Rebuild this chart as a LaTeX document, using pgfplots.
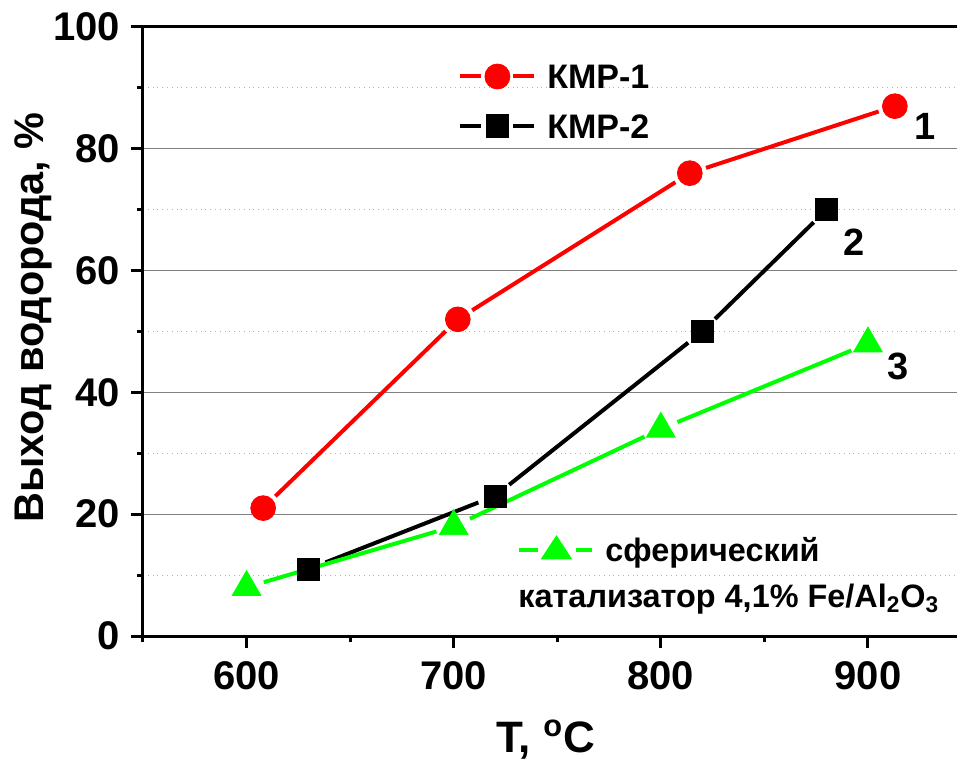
\documentclass[border=0pt]{standalone}
\usepackage{fontspec}
\setmainfont{Liberation Sans}
\usepackage{pgfplots}
\pgfplotsset{compat=1.18}
\definecolor{grn}{RGB}{0,255,0}
\definecolor{rd}{RGB}{255,0,0}
\pgfplotsset{
  redseg/.style={rd, line width=2pt, shorten <=8.5pt, shorten >=8.5pt, forget plot},
  blkseg/.style={black, line width=2pt, shorten <=9pt, shorten >=9pt, forget plot},
  grnseg/.style={grn, line width=2pt, shorten <=9pt, shorten >=9pt, forget plot},
}
\begin{document}
\begin{tikzpicture}
\begin{axis}[
  at={(0,0)}, anchor=south west,
  scale only axis, width=407pt, height=304.5pt,
  xmin=550, xmax=943, ymin=0, ymax=100,
  axis x line*=bottom, axis y line*=left,
  axis line style={line width=1.5pt, -},
  xtick={600,700,800,900}, minor xtick={550,650,750,850},
  ytick={0,20,...,100}, minor ytick={10,30,50,70,90},
  tick align=outside,
  major tick length=6pt, minor tick length=3pt,
  every tick/.style={line width=1.5pt, black},
  ymajorgrids, yminorgrids,
  major grid style={draw=black!50, line width=0.6pt, solid},
  minor grid style={draw=black!30, dotted, line width=0.6pt},
  tick label style={font=\fontsize{20}{23}\selectfont\bfseries},
  xticklabel style={yshift=-3pt},
  yticklabel style={xshift=-2pt},
  /pgf/number format/assume math mode=true,
  xlabel={T, \textsuperscript{o}C},
  ylabel={Выход водорода, \%},
  xlabel style={font=\fontsize{22}{26}\selectfont\bfseries, at={(rel axis cs:0.495,0)}, anchor=base, yshift=-58pt},
  ylabel style={font=\fontsize{20.7}{25}\selectfont\bfseries, at={([xshift=-55pt]rel axis cs:0,0.523)}, anchor=center},
  clip=false,
  legend style={draw=none, fill=none, at={(rel axis cs:0.387,0.878)}, anchor=west,
    inner sep=0pt, row sep=9pt, column sep=5.5pt,
    nodes={inner sep=0pt, text height=14pt, text depth=1.8pt},
    font=\fontsize{17}{20}\selectfont\bfseries},
  legend cell align=left,
]
\draw[line width=1.5pt] (rel axis cs:0,1) -- (rel axis cs:1,1);
% legend images
\addlegendimage{legend image code/.code={
  \draw[rd, line width=2pt] (0pt,0pt)--(10.5pt,0pt) (26.5pt,0pt)--(37pt,0pt);
  \fill[rd] (18.5pt,0pt) circle (6.25pt);}}
\addlegendentry{КМР-1}
\addlegendimage{legend image code/.code={
  \draw[black, line width=2pt] (0pt,0pt)--(10.5pt,0pt) (26.5pt,0pt)--(37pt,0pt);
  \fill[black] (12.9pt,-5.6pt) rectangle (24.1pt,5.6pt);}}
\addlegendentry{КМР-2}
% series 1
\addplot[redseg] coordinates {(608,21) (702,52)};
\addplot[redseg] coordinates {(702,52) (814,76)};
\addplot[redseg] coordinates {(814,76) (913,87)};
\addplot[only marks, rd, mark=*, mark size=6.2pt, mark options={solid, fill=rd, line width=0.4pt}, forget plot]
  coordinates {(608,21) (702,52) (814,76) (913,87)};
% series 2
\addplot[blkseg] coordinates {(630,11) (720,23)};
\addplot[blkseg] coordinates {(720,23) (820,50)};
\addplot[blkseg] coordinates {(820,50) (880,70)};
\addplot[only marks, black, mark=square*, mark size=5.5pt, mark options={solid, fill=black, line width=0.4pt}, forget plot]
  coordinates {(630,11) (720,23) (820,50) (880,70)};
% series 3
\addplot[grnseg] coordinates {(600,8) (700,18)};
\addplot[grnseg] coordinates {(700,18) (800,34)};
\addplot[grnseg] coordinates {(800,34) (900,48)};
\addplot[only marks, grn, mark=triangle*, mark size=8.3pt, mark options={solid, fill=grn, line width=0.4pt}, forget plot]
  coordinates {(600,8) (700,18) (800,34) (900,48)};
\node[font=\fontsize{19}{22}\selectfont\bfseries] at (axis cs:927.8,83.7) {1};
\node[font=\fontsize{19}{22}\selectfont\bfseries] at (axis cs:893.5,64.6) {2};
\node[font=\fontsize{19}{22}\selectfont\bfseries] at (axis cs:914.7,44.3) {3};
\node[font=\fontsize{16.2}{19}\selectfont\bfseries, anchor=base west, inner sep=0pt] at (rel axis cs:0.4607,0.0476) {катализатор 4,1\% Fe/Al\textsubscript{2}O\textsubscript{3}};
\end{axis}
\begin{axis}[
  at={(0,0)}, anchor=south west,
  scale only axis, width=407pt, height=304.5pt,
  xmin=550, xmax=943, ymin=0, ymax=100,
  hide axis,
  legend style={draw=none, fill=none, at={(rel axis cs:0.4595,0.142)}, anchor=west,
    inner sep=0pt, column sep=5.5pt,
    nodes={inner sep=0pt, text height=14pt, text depth=1.8pt},
    font=\fontsize{16.2}{19}\selectfont\bfseries},
  legend cell align=left,
]
\addlegendimage{legend image code/.code={
  \draw[grn, line width=2pt] (0pt,0pt)--(9.5pt,0pt) (28.5pt,0pt)--(36.5pt,0pt);
  \fill[grn] (11pt,-4.7pt) -- (26pt,-4.7pt) -- (18.5pt,6.8pt) -- cycle;}}
\addlegendentry{сферический}
\end{axis}
\pgfresetboundingbox
\path (-71.5pt,-62.5pt) rectangle (407pt,318pt);
\end{tikzpicture}
\end{document}
